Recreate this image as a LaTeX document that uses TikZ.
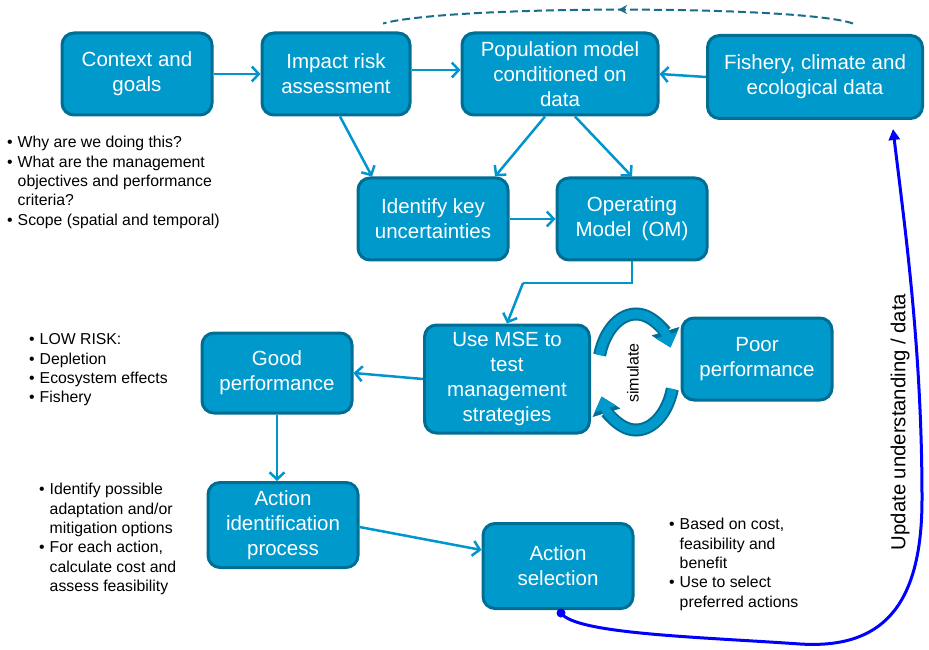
\documentclass[tikz,border=0pt]{standalone}
\usepackage{fontspec}
\setmainfont{Liberation Sans}
\usetikzlibrary{arrows.meta,decorations.markings}

\definecolor{boxfill}{RGB}{0,153,204}
\definecolor{boxedge}{RGB}{0,110,148}
\definecolor{arrowblue}{RGB}{0,150,205}
\definecolor{dashteal}{RGB}{25,108,140}

\tikzset{
    stepbox/.style={draw=boxedge, fill=boxfill, line width=3pt, rounded corners=12pt,
        text=white, align=center, minimum width=150pt, minimum height=82pt,
        font=\fontsize{20.5}{25}\selectfont, inner sep=2pt},
    flow/.style={arrowblue, line width=2.5pt, -{Straight Barb[length=7pt,width=15pt]}},
    notes/.style={anchor=north west, inner sep=0pt, font=\fontsize{15.8}{19.4}\selectfont}
}

\begin{document}
\begin{tikzpicture}[x=1pt,y=1pt]
    \useasboundingbox (0,0) rectangle (929,649);

    % Top row of boxes
    \node[stepbox] (ctx) at (137,575) {Context and\\goals};
    \node[stepbox, minimum width=148pt] (impact) at (336,575) {Impact risk\\assessment};
    \node[stepbox, minimum width=196pt] (popmodel) at (560,575) {Population model\\conditioned on\\data};
    \node[stepbox, minimum width=215pt, minimum height=83pt] (data) at (815,572) {Fishery, climate and\\ecological data};

    % Second row
    \node[stepbox] (uncert) at (433,430) {Identify key\\uncertainties};
    \node[stepbox] (om) at (632,430) {Operating\\Model\enspace(OM)};

    % Simulation row
    \node[stepbox, minimum width=165pt, minimum height=108pt] (mse) at (507,270) {Use MSE to\\test\\management\\strategies};
    \node[stepbox] (poor) at (757,290) {Poor\\performance};
    \node[stepbox, minimum height=80pt] (good) at (277,276) {Good\\performance};

    % Action boxes
    \node[stepbox, minimum height=85pt] (actid) at (283,124) {Action\\identification\\process};
    \node[stepbox, minimum height=85pt] (actsel) at (558,83) {Action\\selection};

    % Arrows between boxes
    \draw[flow] (ctx) -- (impact);
    \draw[flow] ([yshift=4pt]impact.east) -- ([yshift=4pt]popmodel.west);
    \draw[flow] (data.west) -- (popmodel.east);
    \draw[flow] ([xshift=4pt]impact.south) -- ([xshift=-61pt]uncert.north);
    \draw[flow] ([xshift=-15pt]popmodel.south) -- ([xshift=62pt]uncert.north);
    \draw[flow] ([xshift=15pt]popmodel.south) -- (om.north);
    \draw[flow] (uncert) -- (om);

    % OM down to MSE
    \coordinate (omturn) at (523,366);
    \draw[arrowblue, line width=2.5pt] (om.south) |- (omturn);
    \draw[flow] (omturn) -- (mse.north);

    \draw[flow] (mse.west) -- (good.east);
    \draw[flow] (good.south) -- (good.south |- actid.north);
    \draw[flow] ([yshift=-2pt]actid.east) -- ([yshift=16pt]actsel.west);

    % Dashed feedback on top
    \draw[dashteal, line width=2pt, dash pattern=on 8pt off 4pt,
        decoration={markings, mark=at position 0.5 with {\arrow{Stealth[length=9pt,width=9pt]}}},
        postaction={decorate}]
        ([xshift=38pt,yshift=10.5pt]data.north) .. controls (800,644) and (450,644) .. ([xshift=47pt,yshift=8pt]impact.north);

    % Simulate loop
    \draw[boxedge, line width=13pt, -{Triangle[width=28pt,length=17pt]}]
        (636,277) ++(163:38pt and 58pt) arc[start angle=163, end angle=25, x radius=38, y radius=58];
    \draw[boxfill, line width=9pt, -{Triangle[width=22pt,length=13pt]}]
        (636,277) ++(163:38pt and 58pt) arc[start angle=163, end angle=25, x radius=38, y radius=58];
    \draw[boxedge, line width=13pt, -{Triangle[width=28pt,length=17pt]}]
        (636,277) ++(-17:38pt and 58pt) arc[start angle=-17, end angle=-155, x radius=38, y radius=58];
    \draw[boxfill, line width=9pt, -{Triangle[width=22pt,length=13pt]}]
        (636,277) ++(-17:38pt and 58pt) arc[start angle=-17, end angle=-155, x radius=38, y radius=58];
    \node[rotate=90, font=\fontsize{16}{19}\selectfont] (simtext) at (633,276) {simulate};

    % Update loop back to data
    \fill[blue] ([xshift=3pt,yshift=-3pt]actsel.south) circle (4.5pt);
    \draw[blue, line width=3pt, -{Triangle[length=11pt,width=11pt]}]
        ([xshift=3pt,yshift=-3pt]actsel.south) .. controls (575,15) and (700,12) .. (800,5)
        .. controls (880,0) and (922,40) .. (922,150)
        .. controls (922,300) and (905,420) .. ([xshift=78pt,yshift=-9pt]data.south);
    \node[rotate=90, font=\fontsize{20.3}{24}\selectfont] (update) at (900,227) {Update understanding / data};

    % Notes
    \node[notes] (why) at (7,515) {\begin{tabular}{@{}l@{\hspace{5pt}}l@{}}
        \textbullet & Why are we doing this?\\
        \textbullet & What are the management\\
        & objectives and performance\\
        & criteria?\\
        \textbullet & Scope (spatial and temporal)
    \end{tabular}};
    \node[notes] (risk) at (29,318) {\begin{tabular}{@{}l@{\hspace{5pt}}l@{}}
        \textbullet & LOW RISK:\\
        \textbullet & Depletion\\
        \textbullet & Ecosystem effects\\
        \textbullet & Fishery
    \end{tabular}};
    \node[notes] (options) at (39,168) {\begin{tabular}{@{}l@{\hspace{5pt}}l@{}}
        \textbullet & Identify possible\\
        & adaptation and/or\\
        & mitigation options\\
        \textbullet & For each action,\\
        & calculate cost and\\
        & assess feasibility
    \end{tabular}};
    \node[notes] (basis) at (669,133) {\begin{tabular}{@{}l@{\hspace{5pt}}l@{}}
        \textbullet & Based on cost,\\
        & feasibility and\\
        & benefit\\
        \textbullet & Use to select\\
        & preferred actions
    \end{tabular}};
\end{tikzpicture}
\end{document}
